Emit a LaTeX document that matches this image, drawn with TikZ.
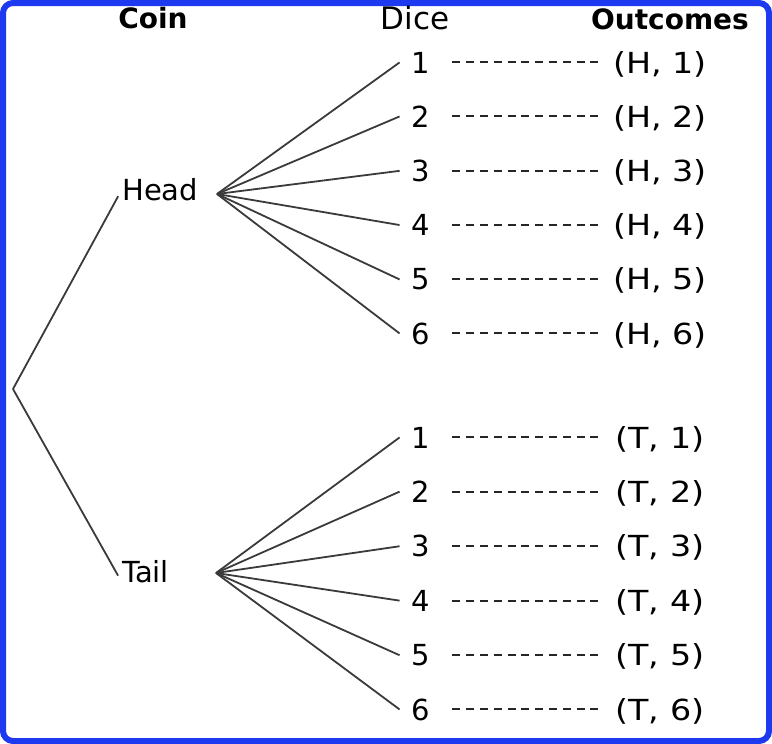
\documentclass[tikz,border=0pt]{standalone}
\usepackage{fontspec}
\setmainfont{DejaVu Sans}
\newfontfamily\outfont[FakeStretch=1.15]{DejaVu Sans}
\definecolor{frameBlue}{RGB}{30,58,240}
\definecolor{treeGrey}{HTML}{3A3A3A}
\usetikzlibrary{calc, decorations.pathmorphing}
\tikzset{
    label text/.style={font=\fontsize{29}{34}\selectfont, inner sep=0pt, anchor=base},
    title text/.style={font=\bfseries\fontsize{28}{33}\selectfont, inner sep=0pt, anchor=base},
    dice node/.style={label text, inner xsep=12pt},
    outcome node/.style={label text, font=\outfont\fontsize{29}{34}\selectfont},
    branch line/.style={treeGrey, line width=1.8pt},
    dash line/.style={black!85, line width=2pt, dash pattern=on 8pt off 5.8pt, shorten <=10pt, shorten >=15.5pt},
    frame line/.style={frameBlue, line width=6pt, rounded corners=10pt},
}

\begin{document}
\begin{tikzpicture}[x=1pt, y=-1pt]
    \useasboundingbox (0,0) rectangle (772,744);
    \draw[frame line] (3,3) rectangle (769,741);
    \draw[frameBlue, line width=1.5pt, decorate, decoration={random steps, segment length=2pt, amplitude=0.8pt}]
        (1,12) -- (1,732) (12,743) -- (760,743) (771,732) -- (771,12) (760,1) -- (12,1);

    % column titles
    \node[title text] (coin) at (153,28) {Coin};
    \node[label text, font=\fontsize{31}{36}\selectfont] (dice) at (415,30) {Dice};
    \node[title text] (outcomes) at (670,29) {Outcomes};

    % coin
    \coordinate (root) at (13,389);
    \node[label text, anchor=base west] (head) at (122,200) {Head};
    \node[label text, anchor=base west] (tail) at (122,582) {Tail};
    \draw[branch line, shorten >=8pt] (root) -- (head.west);
    \draw[branch line, shorten >=8pt] (root) -- (tail.south west);
    \coordinate (hj) at (217,194);
    \coordinate (tj) at (216,573);

    % dice and outcomes
    \foreach \i in {1,...,6} {
        \node[dice node] (h\i) at (421,{73+(\i-1)*54.2}) {\i};
        \node[outcome node] (ho\i) at (660,{73+(\i-1)*54.2}) {(H, \i)};
        \draw[branch line] (hj) -- (h\i.west);
        \draw[dash line] (h\i.east) -- (h\i.east -| ho\i.west);
        \node[dice node] (t\i) at (421,{448+(\i-1)*54.4}) {\i};
        \node[outcome node] (to\i) at (660,{448+(\i-1)*54.4}) {(T, \i)};
        \draw[branch line] (tj) -- (t\i.west);
        \draw[dash line] (t\i.east) -- (t\i.east -| to\i.west);
    }
\end{tikzpicture}
\end{document}
